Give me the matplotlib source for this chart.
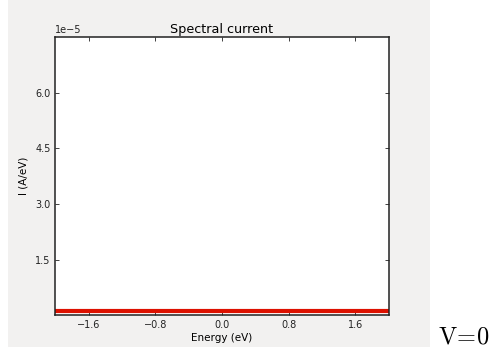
import matplotlib
matplotlib.use("Agg")
import matplotlib.pyplot as plt
from matplotlib.patches import Rectangle

# spectral current data (flat over the energy window)
energy = [-2.0, -1.6, -1.2, -0.8, -0.4, 0.0, 0.4, 0.8, 1.2, 1.6, 2.0]
current = [1.2e-6, 1.2e-6, 1.2e-6, 1.2e-6, 1.2e-6, 1.2e-6,
           1.2e-6, 1.2e-6, 1.2e-6, 1.2e-6, 1.2e-6]

x_ticks = [-1.6, -0.8, 0.0, 0.8, 1.6]
y_ticks = [1.5e-5, 3.0e-5, 4.5e-5, 6.0e-5]

plt.rcParams['mathtext.fontset'] = 'cm'

fig = plt.figure(figsize=(4.91, 3.54), dpi=100, facecolor='white')
# gray canvas behind the plot
fig.patches.append(Rectangle((8 / 491, 7 / 354), 422 / 491, 347 / 354,
                             transform=fig.transFigure, facecolor='#f2f1f0',
                             edgecolor='none', zorder=-5))

ax = fig.add_axes([0.1127, 0.1093, 0.679, 0.786])
ax.set_zorder(1)
ax.plot(energy, current, color='#dd1100', linewidth=3)

ax.set_xlim(-2.0, 2.0)
ax.set_ylim(0, 7.5e-5)
ax.set_xticks(x_ticks)
ax.set_yticks(y_ticks)
ax.tick_params(direction='in', length=3, width=0.6, labelsize=7,
               top=True, right=True, pad=3.5, colors='#222222')
ax.yaxis.get_offset_text().set_fontsize(7)

for s in ax.spines.values():
    s.set_linewidth(1.1)
    s.set_color('#222222')

ax.set_title('Spectral current', fontsize=9.2, pad=3)
ax.set_xlabel('Energy (eV)', fontsize=7.5, labelpad=2)
ax.set_ylabel('I (A/eV)', fontsize=7.5, labelpad=5)

fig.text(438 / 491, 1 - 337 / 354, r'$\mathrm{V\!=\!0}$', fontsize=17.5,
         ha='left', va='center')

fig.savefig('out.png', dpi=100, facecolor='white')
